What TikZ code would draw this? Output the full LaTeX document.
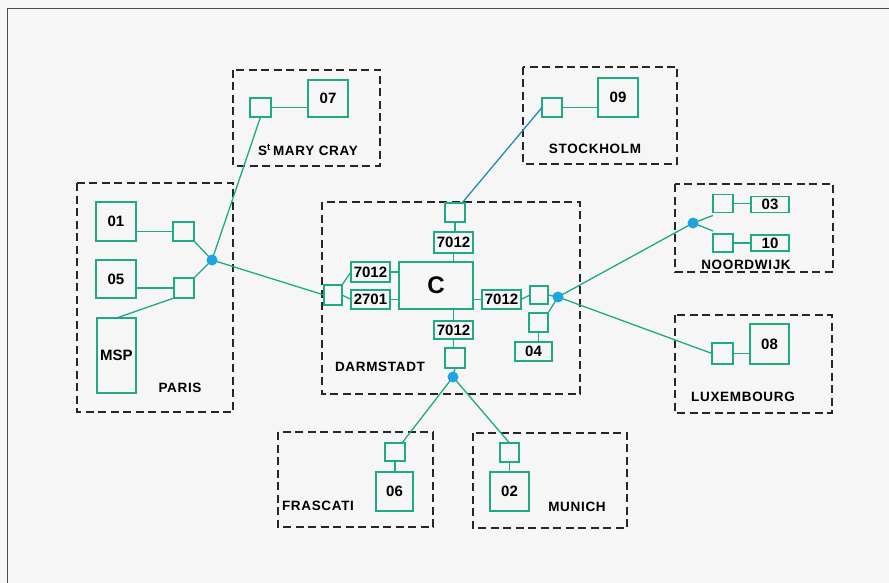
\documentclass[tikz,border=0pt]{standalone}
\usepackage{fontspec}
\setmainfont{Liberation Sans}
\newfontfamily\labfont[LetterSpace=5]{Liberation Sans}
\definecolor{teal1}{RGB}{30,170,135}
\definecolor{dotblue}{RGB}{30,165,225}
\definecolor{linkblue}{RGB}{30,140,180}
\definecolor{bg}{RGB}{246,246,246}
\begin{document}
\begin{tikzpicture}[x=1pt,y=-1pt,
  box/.style={draw=teal1, line width=1.3pt, inner sep=0pt, outer sep=0pt,
    font=\bfseries\fontsize{15}{15}\selectfont, text=black},
  conn/.style={draw=teal1, line width=1.3pt},
  hub/.style={circle, fill=dotblue, inner sep=0pt, minimum size=11pt},
  region/.style={draw=black!85, line width=1.1pt, dash pattern=on 8pt off 4.5pt},
  lab/.style={font=\labfont\bfseries\fontsize{13.5}{13.5}\selectfont, text=black, inner sep=0pt}]
\useasboundingbox (0,0) rectangle (889,583);
\fill[bg] (0,0) rectangle (889,583);
\draw[black!70, line width=0.8pt] (7,583) -- (7,8) -- (889,8);

% regions
\draw[region] (77,183) rectangle (233,412);
\draw[region] (233,70) rectangle (380,166);
\draw[region] (322,202) rectangle (580,394);
\draw[region] (523,67) rectangle (677,164);
\draw[region] (675,184) rectangle (833,272);
\draw[region] (675,315) rectangle (832,413);
\draw[region] (278,432) rectangle (433,527);
\draw[region] (473,433) rectangle (627,528);

% Paris
\node[box, minimum width=40pt, minimum height=39pt] (p01) at (116,221.5) {01};
\node[box, minimum width=21pt, minimum height=19pt] (psq1) at (183.5,231.5) {};
\node[box, minimum width=40pt, minimum height=38pt] (p05) at (116,279) {05};
\node[box, minimum width=20pt, minimum height=20pt] (psq2) at (184,288) {};
\node[box, minimum width=39pt, minimum height=75pt] (msp) at (116.5,355.5) {MSP};
\node[lab] (parisl) at (180,388) {PARIS};
\coordinate (pdot) at (212,260);

% St Mary Cray
\node[box, minimum width=21pt, minimum height=19pt] (msq) at (260.5,107.5) {};
\node[box, minimum width=40pt, minimum height=37pt] (m07) at (328,98.5) {07};
\node[lab] (maryl) at (308,150) {S\textsuperscript{t}\,MARY CRAY};

% Darmstadt
\node[box, minimum width=20pt, minimum height=19pt] (dtsq) at (455,212.5) {};
\node[box, minimum width=39pt, minimum height=21pt] (dt7012) at (453.5,242.5) {7012};
\node[box, minimum width=74pt, minimum height=47pt, font=\bfseries\fontsize{24}{24}\selectfont] (C) at (436,285.5) {C};
\node[box, minimum width=39pt, minimum height=20pt] (dl7012) at (370.5,272) {7012};
\node[box, minimum width=39pt, minimum height=19pt] (d2701) at (370.5,299.5) {2701};
\node[box, minimum width=18pt, minimum height=20pt] (dlsq) at (333,295) {};
\node[box, minimum width=39pt, minimum height=19pt] (dr7012) at (501.5,299.5) {7012};
\node[box, minimum width=18pt, minimum height=18pt] (drsq) at (539,295) {};
\coordinate (rdot) at (558,297);
\node[box, minimum width=19pt, minimum height=19pt] (d04sq) at (538.5,322.5) {};
\node[box, minimum width=37pt, minimum height=19pt] (d04) at (533.5,351.5) {04};
\node[box, minimum width=39pt, minimum height=18pt] (db7012) at (453.5,330) {7012};
\node[box, minimum width=20pt, minimum height=20pt] (dbsq) at (455,358) {};
\coordinate (bdot) at (453,377);
\node[lab] (darml) at (380,367) {DARMSTADT};

% Stockholm
\node[box, minimum width=20pt, minimum height=19pt] (ssq) at (552,107.5) {};
\node[box, minimum width=40pt, minimum height=39pt] (s09) at (618,97.5) {09};
\node[lab] (stol) at (595,149) {STOCKHOLM};

% Noordwijk
\coordinate (ndot) at (693,223);
\node[box, minimum width=20pt, minimum height=18pt] (nsq1) at (723,203.5) {};
\node[box, minimum width=38pt, minimum height=16pt] (n03) at (770,204.5) {03};
\node[box, minimum width=20pt, minimum height=18pt] (nsq2) at (723,243) {};
\node[box, minimum width=38pt, minimum height=16pt] (n10) at (770,243) {10};
\node[lab] (noorl) at (746,265) {NOORDWIJK};

% Luxembourg
\node[box, minimum width=21pt, minimum height=21pt] (lsq) at (722.5,353.5) {};
\node[box, minimum width=39pt, minimum height=40pt] (l08) at (769.5,344) {08};
\node[lab] (luxl) at (743,397) {LUXEMBOURG};

% Frascati
\node[box, minimum width=20pt, minimum height=18pt] (fsq) at (395,452) {};
\node[box, minimum width=37pt, minimum height=39pt] (f06) at (394.5,491.5) {06};
\node[lab] (frasl) at (318,506) {FRASCATI};

% Munich
\node[box, minimum width=19pt, minimum height=19pt] (usq) at (509.5,452.5) {};
\node[box, minimum width=39pt, minimum height=39pt] (u02) at (509.5,491.5) {02};
\node[lab] (munl) at (577,507) {MUNICH};

% connectors
\draw[conn] (p01.east |- psq1.west) -- (psq1.west);
\draw[conn] (p05.east |- psq2.west) -- (psq2.west);
\draw[conn] (psq1.south east) -- (pdot);
\draw[conn] (psq2.north east) -- (pdot);
\draw[conn] (msp.north) -- (psq2.south west);
\draw[conn] (pdot) -- (msq.south);
\draw[conn] (msq.east) -- (m07.west |- msq.east);
\draw[conn] (pdot) -- (dlsq.west);
\draw[conn] (dlsq.north east) -- (dl7012.west);
\draw[conn] (dlsq.east) -- (d2701.west);
\draw[conn] (dl7012.east) -- (C.west |- dl7012.east);
\draw[conn] (d2701.east) -- (C.west |- d2701.east);
\draw[conn] (dtsq.south) -- (dtsq.south |- dt7012.north);
\draw[conn] (dt7012.south) -- (dt7012.south |- C.north);
\draw[conn] (db7012.north |- C.south) -- (db7012.north);
\draw[conn] (db7012.south) -- (db7012.south |- dbsq.north);
\draw[conn] (dbsq.south) -- (bdot);
\draw[conn] (C.east |- dr7012.west) -- (dr7012.west);
\draw[conn] (dr7012.east) -- (drsq.west);
\draw[conn] (drsq.east) -- (rdot);
\draw[conn] (rdot) -- (d04sq.north east);
\draw[conn] (d04sq.south) -- (d04sq.south |- d04.north);
\draw[conn, draw=linkblue] ([xshift=-3pt]dtsq.north east) -- (ssq.west);
\draw[conn] (ssq.east) -- (s09.west |- ssq.east);
\draw[conn] (rdot) -- (ndot);
\draw[conn] (ndot) -- ([yshift=-3pt]nsq1.south west);
\draw[conn] (ndot) -- ([yshift=3pt]nsq2.north west);
\draw[conn] (nsq1.east) -- (n03.west |- nsq1.east);
\draw[conn] (nsq2.east) -- (n10.west |- nsq2.east);
\draw[conn] (rdot) -- (lsq.west);
\draw[conn] (lsq.east) -- (l08.west |- lsq.east);
\draw[conn] (bdot) -- ([xshift=-3pt]fsq.north east);
\draw[conn] (fsq.south) -- (fsq.south |- f06.north);
\draw[conn] (bdot) -- (usq.north);
\draw[conn] (usq.south) -- (usq.south |- u02.north);

% hubs
\node[hub] (pdotc) at (pdot) {};
\node[hub] (rdotc) at (rdot) {};
\node[hub] (bdotc) at (bdot) {};
\node[hub] (ndotc) at (ndot) {};
\end{tikzpicture}
\end{document}
